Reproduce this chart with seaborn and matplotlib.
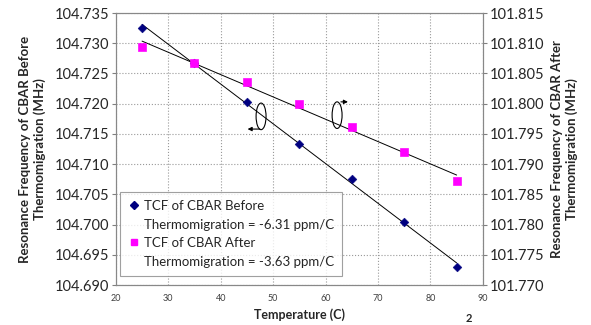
import numpy as np
import pandas as pd
import matplotlib
matplotlib.use('Agg')
import matplotlib.pyplot as plt
import seaborn as sns
from matplotlib.patches import Ellipse
from matplotlib.lines import Line2D

# Data
temps = [25, 35, 45, 55, 65, 75, 85]
freq_before = [104.7325, 104.7268, 104.7202, 104.7133, 104.7075, 104.7005, 104.6929]
freq_after = [101.8093, 101.8068, 101.8036, 101.7999, 101.7961, 101.7920, 101.7872]
legend_lines = ['TCF of CBAR Before', 'Thermomigration = -6.31 ppm/C',
                'TCF of CBAR After', 'Thermomigration = -3.63 ppm/C']

df = pd.DataFrame({'temp': temps, 'before': freq_before, 'after': freq_after})

sns.set_style('white')
plt.rcParams['font.family'] = ['Lato', 'DejaVu Sans']

fig, ax = plt.subplots(figsize=(5.91, 3.25), dpi=100)
fig.subplots_adjust(left=0.196, right=0.817, top=0.96, bottom=0.123)
ax2 = ax.twinx()

# Trendlines (least squares, like the spreadsheet)
for axis, col in [(ax, 'before'), (ax2, 'after')]:
    k, b = np.polyfit(df['temp'], df[col], 1)
    xs = np.array([25, 85])
    axis.plot(xs, k * xs + b, color='black', lw=0.7, zorder=2)

sns.scatterplot(data=df, x='temp', y='before', ax=ax, marker='D', color='#000080',
                s=20, edgecolor='#000080', zorder=3)
sns.scatterplot(data=df, x='temp', y='after', ax=ax2, marker='s', color='#FF00FF',
                s=34, edgecolor='#FF00FF', zorder=3)

ax.set_xlim(20, 90)
ax.set_ylim(104.690, 104.735)
ax2.set_ylim(101.770, 101.815)
ax.set_xticks(range(20, 91, 10))
left_ticks = np.arange(104.690, 104.7351, 0.005)
right_ticks = np.arange(101.770, 101.8151, 0.005)
ax.set_yticks(left_ticks)
ax2.set_yticks(right_ticks)
ax.set_yticklabels([f'{v:.3f}' for v in left_ticks], fontsize=10.5)
ax2.set_yticklabels([f'{v:.3f}' for v in right_ticks], fontsize=10.5)
ax.tick_params(axis='x', labelsize=6.5, labelcolor='#404040', length=3, color='#808080')
ax.tick_params(axis='y', length=3, color='#808080', pad=2)
ax2.tick_params(axis='y', length=3, color='#808080', pad=2)

ax.grid(True, color='#999999', ls=':', lw=0.8)
for a in (ax, ax2):
    for sp in a.spines.values():
        sp.set_color('#888888')
        sp.set_linewidth(0.8)

ax.set_xlabel('Temperature (C)', fontsize=9, fontweight='bold', labelpad=4)
ax.set_ylabel('Resonance Frequency of CBAR Before\nThermomigration (MHz)',
              fontsize=9.5, fontweight='bold', labelpad=6)
ax2.set_ylabel('Resonance Frequency of CBAR After\nThermomigration (MHz)',
               fontsize=9.5, fontweight='bold', labelpad=5)

# Axis indicator ellipses with arrows
ax.add_patch(Ellipse((47.7, 104.7179), 1.9, 0.0044, fill=False, color='black', lw=0.8, zorder=4))
ax.annotate('', xy=(44.6, 104.7158), xytext=(48.0, 104.7158),
            arrowprops=dict(arrowstyle='-|>', color='black', lw=0.8, mutation_scale=6))
ax2.add_patch(Ellipse((62.2, 101.7981), 1.9, 0.0044, fill=False, color='black', lw=0.8, zorder=4))
ax2.annotate('', xy=(64.8, 101.8003), xytext=(62.4, 101.8003),
             arrowprops=dict(arrowstyle='-|>', color='black', lw=0.8, mutation_scale=6))

blank = Line2D([], [], ls='', marker='')
handles = [Line2D([], [], marker='D', ls='', color='#000080', markersize=4), blank,
           Line2D([], [], marker='s', ls='', color='#FF00FF', markersize=5), blank]
leg = ax2.legend(handles, legend_lines, loc='lower left',
                 bbox_to_anchor=(0.0, 0.02), fontsize=9.5, frameon=True, fancybox=False,
                 edgecolor='#888888', handletextpad=0.2, borderpad=0.6,
                 handlelength=1.0, labelspacing=0.5, borderaxespad=0.3)
leg.get_frame().set_linewidth(0.8)

fig.text(0.787, 0.002, '2', fontsize=8, fontweight='bold', va='bottom')

fig.savefig('out.png', dpi=100)
